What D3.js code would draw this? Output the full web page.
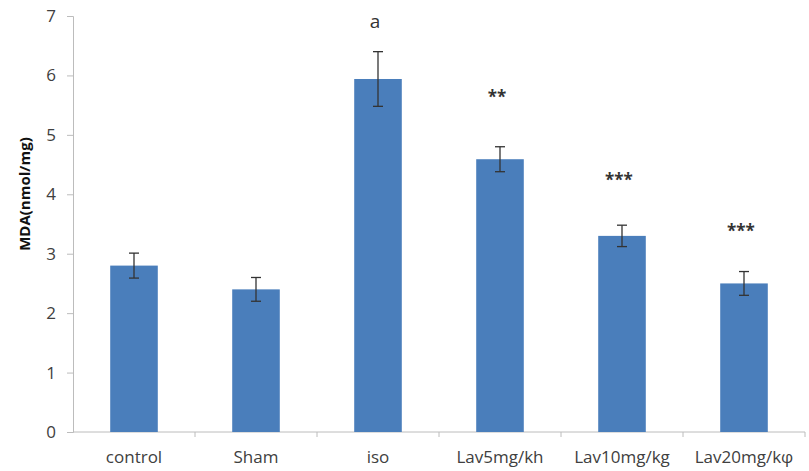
<!DOCTYPE html>
<html>
<head>
<meta charset="utf-8">
<script src="https://cdn.jsdelivr.net/npm/d3@7"></script>
<style>
  html, body { margin: 0; padding: 0; background: #fff; }
  svg { display: block; }
</style>
</head>
<body>
<svg id="chart" width="809" height="471"></svg>
<script>
const categories = ["control", "Sham", "iso", "Lav5mg/kh", "Lav10mg/kg", "Lav20mg/kφ"];
const values = [2.8, 2.4, 5.94, 4.59, 3.3, 2.5];
const errors = [0.21, 0.2, 0.46, 0.21, 0.18, 0.2];
const annotations = ["", "", "a", "**", "***", "***"];
const annotationY = [null, null, 6.88, 5.62, 4.22, 3.35];
const yTicks = [0, 1, 2, 3, 4, 5, 6, 7];
const yLabel = "MDA(nmol/mg)";

const svg = d3.select("#chart");
const margin = { left: 73, right: 4, top: 16, bottom: 39 };
const W = 809, H = 471;

const x = d3.scaleBand().domain(categories).range([margin.left, W - margin.right]).paddingInner(0.61).paddingOuter(0.305);
const xb = d3.scaleBand().domain(categories).range([margin.left, W - margin.right]).padding(0);
const y = d3.scaleLinear().domain([0, 7]).range([H - margin.bottom, margin.top]);

const font = "'Open Sans', sans-serif";
const textCol = "#404040";
const axisCol = "#bcbcbc";

// y axis
const yAxis = svg.append("g").attr("transform", `translate(${margin.left},0)`)
  .call(d3.axisLeft(y).tickValues(yTicks).tickFormat(d3.format("d")).tickSize(6).tickPadding(11));
yAxis.select(".domain").attr("stroke", axisCol);
yAxis.selectAll(".tick line").attr("stroke", axisCol);
yAxis.selectAll(".tick text").attr("fill", textCol).style("font-family", font).style("font-size", "17px");

// x axis
const xAxis = svg.append("g").attr("transform", `translate(0,${y(0)})`)
  .call(d3.axisBottom(x).tickSize(0).tickPadding(19).tickSizeOuter(0));
xAxis.select(".domain").attr("stroke", axisCol).attr("d", `M${margin.left},0H${W - margin.right}`);
xAxis.selectAll(".tick text").attr("fill", textCol).style("font-family", font).style("font-size", "17px");
// category boundary ticks
svg.append("g").selectAll("line").data(categories)
  .join("line")
  .attr("x1", d => xb(d) + xb.bandwidth())
  .attr("x2", d => xb(d) + xb.bandwidth())
  .attr("y1", y(0)).attr("y2", y(0) + 5)
  .attr("stroke", axisCol);

// bars
svg.append("g").selectAll("rect").data(categories).join("rect")
  .attr("x", d => x(d))
  .attr("width", x.bandwidth())
  .attr("y", (d, i) => y(values[i]))
  .attr("height", (d, i) => y(0) - y(values[i]))
  .attr("fill", "#4a7ebb");

// error bars
const eg = svg.append("g").attr("stroke", "#333").attr("stroke-width", 1.3);
categories.forEach((c, i) => {
  const cx = x(c) + x.bandwidth() / 2;
  const top = y(values[i] + errors[i]), bot = y(values[i] - errors[i]);
  eg.append("line").attr("x1", cx).attr("x2", cx).attr("y1", top).attr("y2", bot);
  eg.append("line").attr("x1", cx - 5).attr("x2", cx + 5).attr("y1", top).attr("y2", top);
  eg.append("line").attr("x1", cx - 5).attr("x2", cx + 5).attr("y1", bot).attr("y2", bot);
});

// annotations
svg.append("g").selectAll("text").data(categories).join("text")
  .attr("x", d => x(d) + x.bandwidth() / 2 - 3)
  .attr("y", (d, i) => annotationY[i] == null ? 0 : y(annotationY[i]))
  .attr("text-anchor", "middle")
  .attr("dominant-baseline", "middle")
  .style("font-family", font)
  .style("font-size", (d, i) => annotations[i] === "a" ? "19px" : "17px")
  .style("font-weight", (d, i) => annotations[i] === "a" ? "normal" : "bold")
  .attr("fill", "#333")
  .text((d, i) => annotations[i]);

// y label
svg.append("text")
  .attr("transform", `translate(30,${(y(0) + y(7)) / 2 - 30}) rotate(-90)`)
  .attr("text-anchor", "middle")
  .style("font-family", font)
  .style("font-size", "15px")
  .style("font-weight", "bold")
  .attr("fill", "#111")
  .text(yLabel);
</script>
</body>
</html>
